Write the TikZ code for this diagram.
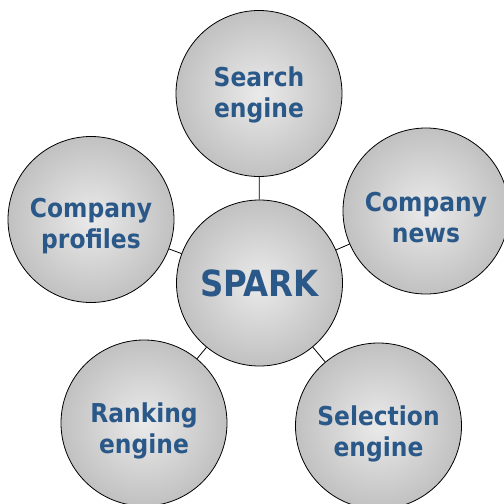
\documentclass[tikz,border=0pt]{standalone}
\usepackage{xcolor}
\usepackage{tikz}
\usepackage{fontspec}
\setmainfont{DejaVu Sans Condensed}

\definecolor{sparkblue}{RGB}{42,88,136}
\definecolor{ballin}{RGB}{234,234,234}
\definecolor{ballout}{RGB}{152,152,152}
\pgfdeclareradialshading{ballshade}{\pgfpoint{0bp}{0bp}}{%
  color(0bp)=(ballin); color(50bp)=(ballout)}

\tikzset{
  topic/.style={circle, draw=black, line width=0.8pt, shading=ballshade,
    minimum size=166pt, inner sep=0pt},
  topictext/.style={align=center, inner sep=0pt,
    font=\fontsize{26}{31}\selectfont\bfseries, text=sparkblue},
  link/.style={draw=black, line width=0.8pt}
}

\begin{document}
\begin{tikzpicture}[x=1pt,y=-1pt]
\useasboundingbox (0,0) rectangle (504,504);
\node[topic] (spark) at (259.5,283) {};
\node[topic] (search) at (259,93.5) {};
\node[topic] (profiles) at (91,219.5) {};
\node[topic] (news) at (426,211) {};
\node[topic] (ranking) at (144,423) {};
\node[topic] (selection) at (378.5,426) {};
%\draw[link] (spark) -- (search) -- (news);
\draw[link] (spark) -- (search);
\draw[link] (spark) -- (profiles);
\draw[link] (spark) -- (news);
\draw[link] (spark) -- (ranking);
\draw[link] (spark) -- (selection);
\node[topictext, font=\fontsize{36}{40}\selectfont\bfseries] (spark-text) at (spark) {SPARK};
\node[topictext] (search-text) at ([yshift=-1.5pt]search) {Search\\engine};
\node[topictext] (profiles-text) at ([yshift=-7pt]profiles) {Company\\profiles};
\node[topictext] (news-text) at ([yshift=-6.5pt]news) {Company\\news};
\node[topictext] (ranking-text) at ([yshift=-8pt]ranking) {Ranking\\engine};
\node[topictext] (selection-text) at ([yshift=-8pt]selection) {Selection\\engine};
\end{tikzpicture}
\end{document}
